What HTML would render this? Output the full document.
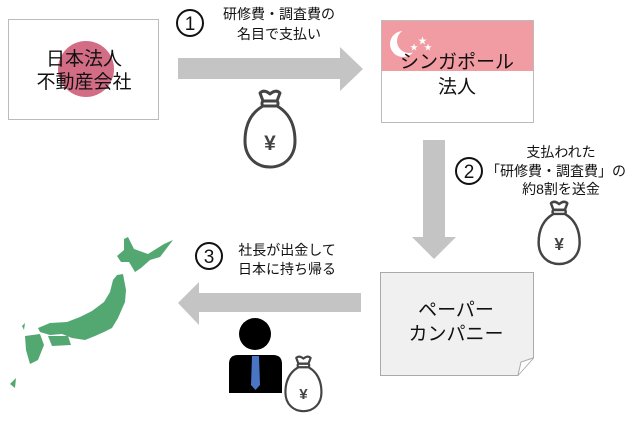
<!DOCTYPE html>
<html><head><meta charset="utf-8"><style>
body{margin:0;background:#fff;}
svg text{font-family:"Liberation Sans","Noto Sans CJK JP",sans-serif;fill:#111;}
</style></head><body>
<svg width="640" height="420" viewBox="0 0 640 420" xmlns="http://www.w3.org/2000/svg">
<defs>
<g id="bag">
<path d="M17,4 Q21,0 27,5 Q33,0 37,4 L34,12 H20 Z" fill="none" stroke="#444" stroke-width="3" stroke-linejoin="round"/>
<rect x="19" y="12" width="16" height="5" rx="2" fill="none" stroke="#444" stroke-width="3"/>
<path d="M20,17 C6,25 2,38 2,52 C2,68 13,78 27,78 C41,78 52,68 52,52 C52,38 48,25 34,17" fill="none" stroke="#444" stroke-width="3"/>
<text x="27" y="61" font-size="21" font-weight="bold" text-anchor="middle" style="fill:#444">¥</text>
</g>
</defs>
<!-- Japan box -->
<rect x="8.5" y="19.5" width="150" height="100" fill="#fff" stroke="#bbb"/>
<circle cx="86" cy="69" r="28" fill="#d26d85"/>
<text x="84" y="65" font-size="19" text-anchor="middle">日本法人</text>
<text x="84" y="88" font-size="19" text-anchor="middle">不動産会社</text>
<!-- Singapore box -->
<rect x="381.5" y="20.5" width="152" height="102" fill="#fff" stroke="#bbb"/>
<rect x="382" y="21" width="151" height="50" fill="#f19ba2"/>
<circle cx="403" cy="44" r="13" fill="#fff"/>
<circle cx="409" cy="41" r="12" fill="#f19ba2"/>
<text x="418" y="44" font-size="9" style="fill:#fff">★</text>
<text x="410" y="50" font-size="8" style="fill:#fff">★</text>
<text x="424" y="50" font-size="8" style="fill:#fff">★</text>
<text x="457" y="68" font-size="19" text-anchor="middle">シンガポール</text>
<text x="457" y="93" font-size="19" text-anchor="middle">法人</text>
<!-- arrow 1 -->
<polygon points="178,58 340,58 340,47 363,69 340,91 340,79 178,79" fill="#c4c4c4"/>
<circle cx="190" cy="23" r="13" fill="none" stroke="#111" stroke-width="2"/>
<text x="190" y="30" font-size="19" text-anchor="middle">1</text>
<text x="279" y="19" font-size="14" text-anchor="middle">研修費・調査費の</text>
<text x="279" y="39" font-size="14" text-anchor="middle">名目で支払い</text>
<g transform="translate(243,89)"><use href="#bag"/></g>
<!-- arrow 2 -->
<polygon points="423,140 445,140 445,237 456,237 434,259 412,237 423,237" fill="#c4c4c4"/>
<circle cx="469" cy="171" r="13" fill="none" stroke="#111" stroke-width="2"/>
<text x="469" y="178" font-size="19" text-anchor="middle">2</text>
<text x="561" y="157" font-size="14" text-anchor="middle">支払われた</text>
<text x="556" y="176" font-size="14" text-anchor="middle">「研修費・調査費」の</text>
<text x="561" y="194" font-size="14" text-anchor="middle">約8割を送金</text>
<g transform="translate(537,200) scale(0.82)"><use href="#bag"/></g>
<!-- paper -->
<path d="M380.5,272.5 H533.5 V358 L518,375.5 H380.5 Z" fill="#f0f0f0" stroke="#aaa"/>
<path d="M518,375 L521,362 L533,358" fill="#fff" stroke="#aaa"/>
<text x="456" y="316" font-size="19" text-anchor="middle">ペーパー</text>
<text x="456" y="340" font-size="19" text-anchor="middle">カンパニー</text>
<!-- arrow 3 -->
<polygon points="361,293 199,293 199,282 178,303 199,325 199,312 361,312" fill="#c4c4c4"/>
<circle cx="209" cy="256" r="13" fill="none" stroke="#111" stroke-width="2"/>
<text x="209" y="263" font-size="19" text-anchor="middle">3</text>
<text x="287" y="255" font-size="14" text-anchor="middle">社長が出金して</text>
<text x="287" y="274" font-size="14" text-anchor="middle">日本に持ち帰る</text>
<!-- person -->
<circle cx="255" cy="334" r="16" fill="#000"/>
<path d="M229,393 V364 Q229,355 238,355 H273 Q282,355 282,364 V393 Z" fill="#000"/>
<polygon points="252,356 259,356 260,385 255.5,390 251,385" fill="#4a74c4"/>
<g transform="translate(284,355) scale(0.72)"><use href="#bag"/></g>
<!-- Japan map -->
<g fill="#52a870">
<polygon points="124,239 128,237 134,249 148,254 164,244 173,240 160,257 150,260 141,268 135,272 129,262 121,262 117,256 124,250"/>
<polygon points="117,275 123,274 126,290 125,302 118,318 112,328 104,332 95,336 85,340 72,338 62,334 50,335 40,332 38,328 50,323 67,322 80,317 92,311 104,302 110,292 113,280"/>
<polygon points="48,336 68,336 71,345 52,346"/>
<polygon points="25,336 40,334 44,345 38,360 30,364 26,350"/>
<polygon points="10,384 16,378 15,388"/>
<polygon points="22,326 25,323 24,330"/>
</g>
</svg>
</body></html>
